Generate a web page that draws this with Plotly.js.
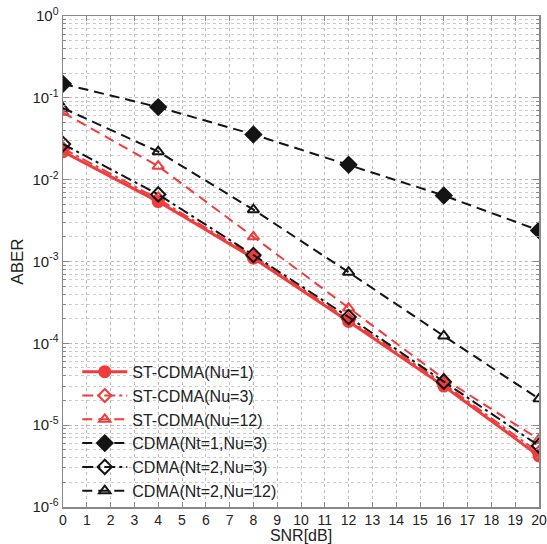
<!DOCTYPE html>
<html>
<head>
<meta charset="utf-8">
<script src="https://cdn.plot.ly/plotly-3.0.1.min.js"></script>
<style>html,body{margin:0;padding:0;background:#fff;}#chart{width:547px;height:544px;}</style>
</head>
<body>
<div id="chart"></div>
<script>
var snr = [0, 4, 8, 12, 16, 20];
var stNu1 = [0.022, 0.0054, 0.0011, 1.85e-4, 3.0e-5, 4.2e-6];
var stNu3 = [0.024, 0.0058, 0.00115, 1.95e-4, 3.2e-5, 4.6e-6];
var stNu12 = [0.066, 0.0146, 0.0020, 2.7e-4, 3.7e-5, 6.7e-6];
var cdmaNt1Nu3 = [0.148, 0.077, 0.0357, 0.0152, 0.0064, 0.0024];
var cdmaNt2Nu3 = [0.0272, 0.0066, 0.0012, 2.1e-4, 3.4e-5, 5.6e-6];
var cdmaNt2Nu12 = [0.075, 0.022, 0.0043, 7.4e-4, 1.23e-4, 2.1e-5];
var names = ['ST-CDMA(Nu=1)', 'ST-CDMA(Nu=3)', 'ST-CDMA(Nu=12)', 'CDMA(Nt=1,Nu=3)', 'CDMA(Nt=2,Nu=3)', 'CDMA(Nt=2,Nu=12)'];
var xTicks = [0,1,2,3,4,5,6,7,8,9,10,11,12,13,14,15,16,17,18,19,20];
var yTickVals = [1e-6, 1e-5, 1e-4, 1e-3, 1e-2, 1e-1, 1];
var yTickText = ['10<sup>-6</sup>','10<sup>-5</sup>','10<sup>-4</sup>','10<sup>-3</sup>','10<sup>-2</sup>','10<sup>-1</sup>','10<sup>0</sup>'];

var RED = 'rgb(240,60,60)';
var BLK = 'rgb(20,20,20)';
var DASH = '10px,6px';
var DASHDOT = '11px,4px,3px,4px';

var yMinor = [];
for (var e = -6; e < 0; e++) { for (var m = 2; m <= 9; m++) { yMinor.push(m * Math.pow(10, e)); } }

function tr(y, name, color, dash, symbol, width, size) {
  return {
    x: snr, y: y, name: name, type: 'scatter', mode: 'lines+markers',
    line: {color: color, dash: dash, width: width},
    marker: {symbol: symbol, size: size, color: color,
             line: {color: color, width: 2}}
  };
}

var data = [
  tr(stNu1, names[0], RED, 'solid', 'circle', 3, 11),
  tr(stNu3, names[1], RED, DASHDOT, 'diamond-open', 2, 10),
  tr(stNu12, names[2], RED, DASH, 'triangle-up-open', 2, 10),
  tr(cdmaNt1Nu3, names[3], BLK, DASH, 'diamond', 2, 12),
  tr(cdmaNt2Nu3, names[4], BLK, DASHDOT, 'diamond-open', 2, 11),
  tr(cdmaNt2Nu12, names[5], BLK, DASH, 'triangle-up-open', 2, 10)
];

var layout = {
  width: 547, height: 544,
  margin: {l: 63, r: 8, t: 16, b: 37},
  paper_bgcolor: '#fff', plot_bgcolor: '#fff',
  font: {family: 'Liberation Sans, Arial, sans-serif', size: 14, color: '#222'},
  showlegend: true,
  legend: {x: 0.03, y: 0.31, xanchor: 'left', yanchor: 'top', bgcolor: 'rgba(0,0,0,0)',
           font: {size: 16, color: '#222'}, itemwidth: 45, tracegroupgap: 0},
  xaxis: {
    range: [0, 20], tickvals: xTicks, ticktext: xTicks.map(String),
    showline: true, mirror: 'ticks', linecolor: '#888', linewidth: 1.5,
    ticks: 'inside', ticklen: 5, tickcolor: '#888',
    showgrid: true, gridcolor: '#bbb', griddash: 'dot', gridwidth: 1,
    zeroline: false, automargin: false, tickfont: {size: 14},
    title: {text: 'SNR[dB]', font: {size: 16}, standoff: 6}
  },
  yaxis: {
    type: 'log', range: [-6, 0], tickvals: yTickVals, ticktext: yTickText,
    showline: true, mirror: 'ticks', linecolor: '#888', linewidth: 1.5,
    ticks: 'inside', ticklen: 6, tickcolor: '#888',
    showgrid: true, gridcolor: '#bbb', griddash: 'dot', gridwidth: 1,
    zeroline: false, tickfont: {size: 15}, automargin: false,
    minor: {tickvals: yMinor, ticks: 'inside', ticklen: 3, tickcolor: '#888',
            showgrid: true, gridcolor: '#ccc', griddash: 'dot', gridwidth: 1},
    title: {text: 'ABER', font: {size: 17}, standoff: 4}
  }
};

Plotly.newPlot('chart', data, layout, {displayModeBar: false, staticPlot: true});
</script>
</body>
</html>
